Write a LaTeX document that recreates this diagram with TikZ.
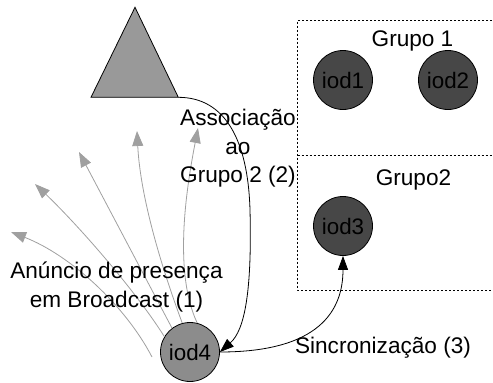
\documentclass[tikz,border=0pt]{standalone}
\usepackage{fontspec}
\setmainfont{Liberation Sans}
\usetikzlibrary{arrows.meta}
\definecolor{darknode}{HTML}{474747}
\definecolor{midnode}{HTML}{8C8C8C}
\definecolor{trifill}{HTML}{999999}
\definecolor{fanline}{HTML}{A0A0A0}
\begin{document}
\begin{tikzpicture}[x=1pt,y=-1pt,
  lbl/.style={font=\fontsize{22.6}{28.5}\selectfont, inner sep=0pt},
  iodnode/.style={circle, draw=black, line width=0.8pt, minimum size=59pt, inner sep=0pt, font=\fontsize{22.4}{26}\selectfont},
  grp/.style={draw=black, line width=0.8pt, dash pattern=on 2pt off 2pt},
  fan/.style={draw=fanline, line width=0.8pt, -{Triangle[length=15pt,width=11pt,fill=fanline]}},
  blk/.style={draw=black, line width=0.8pt, -{Triangle[length=14pt,width=10pt,fill=black]}}
]
\useasboundingbox (0,0) rectangle (493,383);
% group boxes
\draw[grp] (500,20) -- (297.5,20) -- (297.5,290) -- (500,290);
\draw[grp] (297.5,155) -- (500,155);
\node[lbl, anchor=base] (g1) at (412.5,46.7) {Grupo 1};
\node[lbl, anchor=base] (g2) at (413.5,185) {Grupo2};
% triangle
\coordinate (tA) at (135,7.3);
\coordinate (tL) at (91,97.3);
\coordinate (tR) at (178.3,97.3);
\draw[fill=trifill, line width=0.8pt] (tA) -- (tL) -- (tR) -- cycle;
% nodes
\node[iodnode, fill=darknode] (iod1) at (343,80) {iod1};
\node[iodnode, fill=darknode] (iod2) at (448,80) {iod2};
\node[iodnode, fill=darknode] (iod3) at (343,226) {iod3};
\node[iodnode, fill=midnode] (iod4) at (190,352) {iod4};
% broadcast fan
\coordinate (s1) at (152,357);
\coordinate (t1) at (11,232);
\coordinate (t2) at (35,184);
\coordinate (t3) at (79,152);
\coordinate (t4) at (137,131);
\coordinate (t5) at (198,128);
\draw[fan] (s1) .. controls (125,305) and (70,255) .. (t1);
\draw[fan] (iod4.149) .. controls (133,287) and (75,222) .. (t2);
\draw[fan] (iod4.127) -- (t3);
\draw[fan] (iod4.105) .. controls (157,255) and (140,191) .. (t4);
\draw[fan] (iod4.76) .. controls (172,270) and (188,180) .. (t5);
% association
\coordinate (am) at (250,210);
\draw[blk] (tR) .. controls (225,97.3) and (248,140) .. (am) .. controls (252,290) and (245,330) .. (iod4.east);
% sync
\draw[blk] (iod4.east) .. controls (320,352) and (343,310) .. (iod3.south);
% labels
\node[lbl, anchor=base, align=center] (lassoc) at (238,182.5) {Associação\\ao\\Grupo 2 (2)};
\node[lbl, anchor=base, align=center] (lanun) at (116.5,307) {Anúncio de presença\\em Broadcast (1)};
\node[lbl, anchor=base] (lsync) at (383,353) {Sincronização (3)};
\end{tikzpicture}
\end{document}
